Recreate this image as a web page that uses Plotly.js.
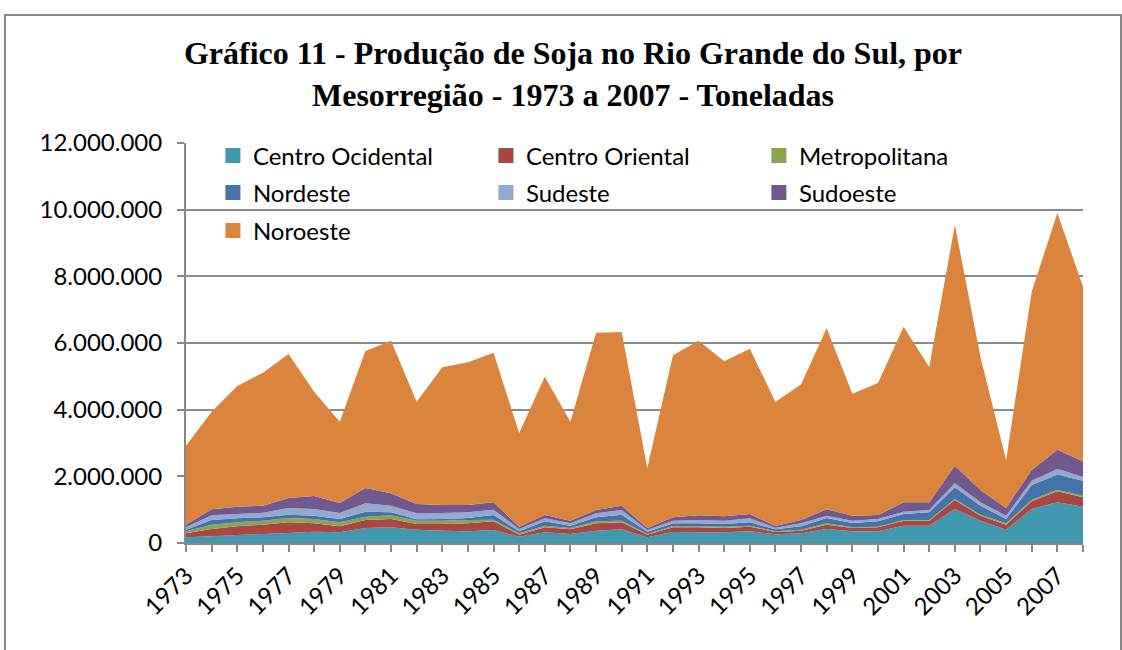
<!DOCTYPE html>
<html>
<head>
<meta charset="utf-8">
<script src="https://cdn.plot.ly/plotly-3.0.1.min.js"></script>
<style>
  html, body { margin: 0; padding: 0; background: #fff; }
  #wrap { position: relative; width: 1122px; height: 650px; overflow: hidden; }
  #chart { position: absolute; left: 0; top: 0; width: 1122px; height: 650px; }
  #frame { position: absolute; left: 4px; top: 14px; width: 1114px; height: 700px;
           border: 2px solid #888; pointer-events: none; }
</style>
</head>
<body>
<div id="wrap">
  <div id="chart"></div>
  <div id="frame"></div>
</div>
<script>
// Categories (years)
const years = [1973, 1974, 1975, 1976, 1977, 1978, 1979, 1980, 1981, 1982, 1983, 1984,
               1985, 1986, 1987, 1988, 1989, 1990, 1991, 1992, 1993, 1994, 1995, 1996,
               1997, 1998, 1999, 2000, 2001, 2002, 2003, 2004, 2005, 2006, 2007, 2008];
// Tick labels (every second year labelled)
const yearLabels = ['1973', '', '1975', '', '1977', '', '1979', '', '1981', '', '1983', '',
                    '1985', '', '1987', '', '1989', '', '1991', '', '1993', '', '1995', '',
                    '1997', '', '1999', '', '2001', '', '2003', '', '2005', '', '2007', ''];

// Series values (tonnes)
const centroOcidental = [170000, 200000, 240000, 270000, 300000, 340000, 320000, 450000, 470000, 400000, 370000, 350000,
                         390000, 190000, 320000, 270000, 370000, 410000, 170000, 330000, 320000, 320000, 350000, 260000,
                         290000, 420000, 350000, 350000, 520000, 520000, 1020000, 670000, 400000, 1020000, 1220000, 1090000];
const centroOriental = [120000, 220000, 260000, 280000, 320000, 250000, 180000, 240000, 250000, 170000, 200000, 240000,
                        260000, 60000, 150000, 140000, 220000, 210000, 80000, 140000, 150000, 130000, 140000, 70000,
                        80000, 130000, 100000, 120000, 150000, 150000, 270000, 150000, 150000, 230000, 330000, 280000];
const metropolitana = [60000, 130000, 120000, 120000, 130000, 130000, 120000, 100000, 110000, 100000, 100000, 100000,
                       50000, 40000, 50000, 40000, 60000, 50000, 20000, 40000, 30000, 40000, 30000, 20000,
                       30000, 40000, 20000, 20000, 20000, 20000, 30000, 30000, 40000, 50000, 50000, 50000];
const nordeste = [50000, 140000, 120000, 100000, 100000, 100000, 100000, 150000, 90000, 40000, 50000, 60000,
                  140000, 60000, 130000, 70000, 120000, 180000, 70000, 80000, 90000, 80000, 100000, 60000,
                  100000, 160000, 130000, 160000, 180000, 230000, 350000, 270000, 130000, 440000, 450000, 450000];
const sudeste = [70000, 140000, 130000, 140000, 200000, 200000, 180000, 250000, 200000, 180000, 180000, 170000,
                 160000, 70000, 90000, 70000, 120000, 140000, 50000, 80000, 100000, 100000, 120000, 50000,
                 90000, 70000, 70000, 70000, 70000, 70000, 120000, 100000, 100000, 130000, 170000, 120000];
const sudoeste = [80000, 180000, 220000, 210000, 300000, 390000, 300000, 460000, 370000, 280000, 240000, 220000,
                  220000, 70000, 100000, 80000, 100000, 130000, 60000, 100000, 140000, 130000, 130000, 50000,
                  100000, 190000, 150000, 120000, 280000, 230000, 530000, 370000, 230000, 320000, 580000, 460000];
const noroeste = [2370000, 2930000, 3620000, 3990000, 4320000, 3130000, 2440000, 4110000, 4580000, 3070000, 4130000, 4280000,
                  4490000, 2810000, 4150000, 2970000, 5320000, 5210000, 1790000, 4860000, 5240000, 4650000, 4960000, 3720000,
                  4070000, 5430000, 3660000, 3960000, 5270000, 4060000, 7220000, 3990000, 1440000, 5350000, 7100000, 5240000];

const seriesNames = ['Centro Ocidental', 'Centro Oriental', 'Metropolitana', 'Nordeste', 'Sudeste', 'Sudoeste', 'Noroeste'];
const seriesData = [centroOcidental, centroOriental, metropolitana, nordeste, sudeste, sudoeste, noroeste];
const seriesColors = ['#4198AF', '#A94543', '#8AA64D', '#4572A7', '#93A9CF', '#71598F', '#DB843D'];
const legendRows = ['legend', 'legend', 'legend', 'legend2', 'legend2', 'legend2', 'legend3'];

const traces = [];
seriesNames.forEach(function (name, i) {
  traces.push({
    type: 'scatter', x: years, y: seriesData[i], name: name,
    stackgroup: 'one', mode: 'none', fillcolor: seriesColors[i],
    line: {width: 0}, showlegend: false, hoverinfo: 'x+y+name'
  });
});
// legend-only entries with square swatches (one legend per row)
seriesNames.forEach(function (name, i) {
  traces.push({
    type: 'scatter', x: [null], y: [null], name: name, mode: 'markers',
    marker: {symbol: 'square', size: 15, color: seriesColors[i]},
    showlegend: true, legend: legendRows[i], hoverinfo: 'skip'
  });
});

const tickFont = {family: 'Lato, "Open Sans", sans-serif', size: 24, color: '#000'};
const legendFont = {family: 'Lato, "Open Sans", sans-serif', size: 24, color: '#000'};

function legendRow(yPos) {
  return {
    orientation: 'h', x: 0.03, xanchor: 'left', y: yPos, yanchor: 'top',
    entrywidth: 228, entrywidthmode: 'pixels', traceorder: 'normal',
    bgcolor: 'rgba(0,0,0,0)', borderwidth: 0, font: legendFont
  };
}

const layout = {
  width: 1122, height: 650,
  paper_bgcolor: 'rgba(0,0,0,0)', plot_bgcolor: 'rgba(0,0,0,0)',
  separators: ',.',
  margin: {l: 186, r: 39, t: 143, b: 107},
  title: {
    text: 'Gráfico 11 - Produção de Soja no Rio Grande do Sul, por<br>Mesorregião - 1973 a 2007 - Toneladas',
    font: {family: '"Liberation Serif", "Times New Roman", serif', size: 32, color: '#000', weight: 'bold'},
    x: 573 / 1122, xanchor: 'center', xref: 'container',
    y: 1 - 64 / 650, yanchor: 'middle', yref: 'container'
  },
  xaxis: {
    type: 'linear', range: [1973, 2008], fixedrange: true,
    tickmode: 'array', tickvals: years, ticktext: yearLabels, tickangle: -45,
    ticks: 'outside', ticklen: 7, tickwidth: 2, tickcolor: '#888',
    showline: true, linecolor: '#888', linewidth: 2,
    showgrid: false, zeroline: false, tickfont: tickFont
  },
  yaxis: {
    range: [0, 12000000], dtick: 2000000, tickformat: ',d', fixedrange: true,
    ticks: 'outside', ticklen: 7, tickwidth: 2, tickcolor: '#888',
    ticklabelstandoff: 10,
    showline: true, linecolor: '#888', linewidth: 2,
    showgrid: true, gridcolor: '#8c8c8c', gridwidth: 2, zeroline: false,
    tickfont: tickFont
  },
  showlegend: true,
  legend: legendRow(1.024),
  legend2: legendRow(0.9315),
  legend3: legendRow(0.8365)
};

Plotly.newPlot('chart', traces, layout, {displayModeBar: false, responsive: false});
</script>
</body>
</html>
